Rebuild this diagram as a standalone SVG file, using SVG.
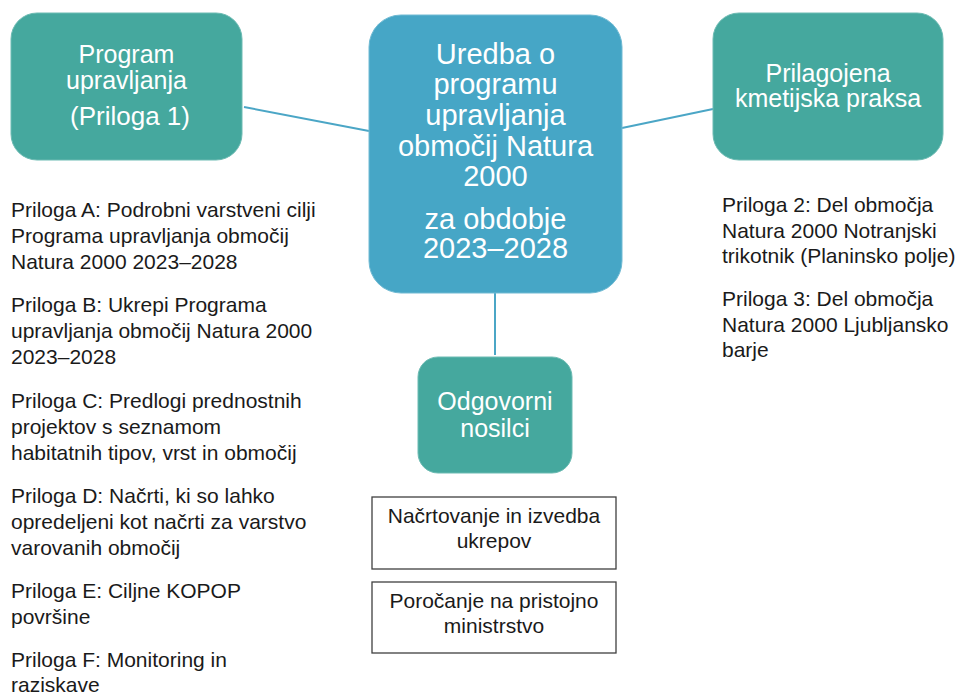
<svg xmlns="http://www.w3.org/2000/svg" width="955" height="695" viewBox="0 0 955 695">
<style>
.teal{fill:#45A89E;stroke:#6DBBB3;stroke-width:1}
.blue{fill:#46A6C6;stroke:#70BAD3;stroke-width:1}
.wt{font-family:"Liberation Sans",Arial,sans-serif;fill:#FFFFFF;text-anchor:middle}
.bt{font-family:"Liberation Sans",Arial,sans-serif;fill:#1A1A1A;font-size:21px}
.bc{font-family:"Liberation Sans",Arial,sans-serif;fill:#1A1A1A;font-size:21px;text-anchor:middle}
.box{fill:#FFFFFF;stroke:#404040;stroke-width:1.3}
.con{stroke:#4BA6C6;stroke-width:2;fill:none}
</style>
<rect width="955" height="695" fill="#FFFFFF"/>
<g id="connectors">
<line class="con" x1="244" y1="107" x2="369" y2="131"/>
<line class="con" x1="622" y1="128" x2="713" y2="109"/>
<line class="con" x1="495" y1="293" x2="495" y2="355"/>
</g>
<g id="program">
<rect class="teal" x="11" y="13" width="231" height="147" rx="26"/>
<text class="wt" font-size="25"><tspan x="126.5" y="63">Program</tspan><tspan x="126.5" y="89">upravljanja</tspan><tspan x="130" y="125" font-size="26">(Priloga 1)</tspan></text>
</g>
<g id="uredba">
<rect class="blue" x="369" y="15" width="253" height="278" rx="32"/>
<text class="wt" font-size="29"><tspan x="495.5" y="64">Uredba o</tspan><tspan x="495.5" y="94">programu</tspan><tspan x="495.5" y="125">upravljanja</tspan><tspan x="495.5" y="156">območij Natura</tspan><tspan x="495.5" y="186">2000</tspan><tspan x="495.5" y="229">za obdobje</tspan><tspan x="495.5" y="258">2023–2028</tspan></text>
</g>
<g id="kmetijska">
<rect class="teal" x="713" y="13" width="230" height="147" rx="26"/>
<text class="wt" font-size="25"><tspan x="828" y="82">Prilagojena</tspan><tspan x="828" y="107">kmetijska praksa</tspan></text>
</g>
<g id="nosilci">
<rect class="teal" x="418" y="357" width="154" height="116" rx="20"/>
<text class="wt" font-size="25"><tspan x="495" y="410">Odgovorni</tspan><tspan x="495" y="437">nosilci</tspan></text>
</g>
<g id="nacrtovanje">
<rect class="box" x="372" y="497" width="244" height="72"/>
<text class="bc"><tspan x="494" y="523">Načrtovanje in izvedba</tspan><tspan x="494" y="548">ukrepov</tspan></text>
</g>
<g id="porocanje">
<rect class="box" x="372" y="582" width="244" height="71"/>
<text class="bc"><tspan x="494" y="608">Poročanje na pristojno</tspan><tspan x="494" y="633">ministrstvo</tspan></text>
</g>
<g id="priloge-levo">
<text class="bt"><tspan x="11" y="217">Priloga A: Podrobni varstveni cilji</tspan><tspan x="11" y="243">Programa upravljanja območij</tspan><tspan x="11" y="269">Natura 2000 2023–2028</tspan></text>
<text class="bt"><tspan x="11" y="312">Priloga B: Ukrepi Programa</tspan><tspan x="11" y="338">upravljanja območij Natura 2000</tspan><tspan x="11" y="364">2023–2028</tspan></text>
<text class="bt"><tspan x="11" y="408">Priloga C: Predlogi prednostnih</tspan><tspan x="11" y="434">projektov s seznamom</tspan><tspan x="11" y="460">habitatnih tipov, vrst in območij</tspan></text>
<text class="bt"><tspan x="11" y="503">Priloga D: Načrti, ki so lahko</tspan><tspan x="11" y="529">opredeljeni kot načrti za varstvo</tspan><tspan x="11" y="555">varovanih območij</tspan></text>
<text class="bt"><tspan x="11" y="598">Priloga E: Ciljne KOPOP</tspan><tspan x="11" y="624">površine</tspan></text>
<text class="bt"><tspan x="11" y="667">Priloga F: Monitoring in</tspan><tspan x="11" y="692">raziskave</tspan></text>
</g>
<g id="priloge-desno">
<text class="bt"><tspan x="722" y="212">Priloga 2: Del območja</tspan><tspan x="722" y="238">Natura 2000 Notranjski</tspan><tspan x="722" y="263">trikotnik (Planinsko polje)</tspan></text>
<text class="bt"><tspan x="722" y="306">Priloga 3: Del območja</tspan><tspan x="722" y="332">Natura 2000 Ljubljansko</tspan><tspan x="722" y="357">barje</tspan></text>
</g>
</svg>
